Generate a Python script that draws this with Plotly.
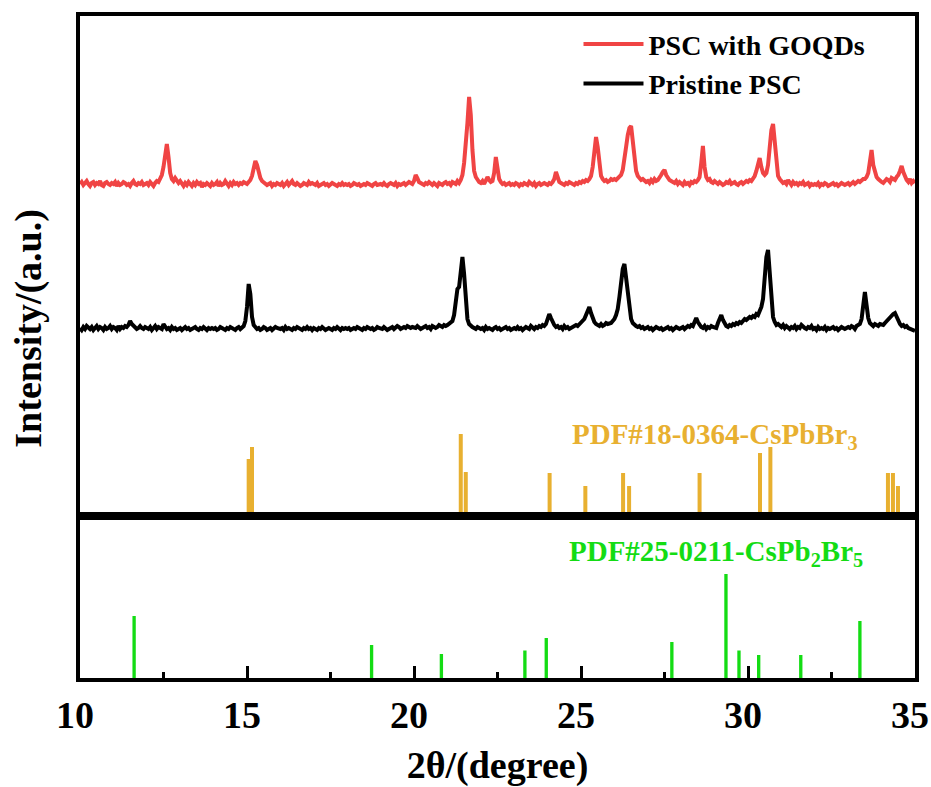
import plotly.graph_objects as go
from plotly.subplots import make_subplots

# ---------------- data ----------------
two_theta_start = 10.0
two_theta_step = 0.05

# PSC with GOQDs (intensity above its own baseline, a.u.), 10.00 .. 35.00 step 0.05
red_int = [
    1,3,0,2,4,1,-1,2,3,0,2,1,4,0,-1,2,3,1,0,2,           # 10
    1,3,-1,2,0,1,3,2,0,1,-1,2,4,1,0,2,1,3,0,1,           # 11
    2,0,3,1,-1,2,4,3,6,10,18,30,41,28,12,6,4,7,5,2,      # 12
    4,1,-1,2,0,3,1,-1,2,0,3,1,2,-2,1,0,2,1,-1,2,         # 13
    0,1,3,-1,2,0,1,4,1,-1,2,0,3,1,2,0,2,1,3,2,           # 14
    1,3,5,9,17,24,20,12,7,4,3,2,0,1,2,-1,1,0,2,1,        # 15
    0,2,-1,1,3,0,2,4,1,0,2,1,-1,0,2,1,0,3,1,2,           # 16
    1,0,2,-1,0,1,2,0,1,-1,0,2,1,0,-1,1,0,2,0,1,          # 17
    0,1,-1,0,2,1,0,1,-1,0,1,0,2,1,0,-1,1,2,0,1,          # 18
    1,0,2,0,-1,1,2,1,0,2,-1,1,0,1,2,0,1,3,2,1,           # 19
    4,10,7,3,2,1,0,2,1,3,1,0,2,1,-1,2,1,0,2,3,           # 20
    1,2,0,3,2,1,4,2,5,10,22,40,62,88,70,35,14,8,5,3,     # 21
    2,4,1,6,8,5,3,4,12,28,14,6,3,1,2,0,1,2,0,1,          # 22
    0,2,1,-1,1,0,2,1,0,3,1,0,2,-1,1,2,0,1,2,1,           # 23
    0,2,1,3,6,13,7,3,2,1,0,2,1,3,2,1,0,2,1,3,            # 24
    2,4,3,5,4,6,9,18,32,48,38,18,9,6,4,5,3,4,6,5,        # 25
    6,5,7,8,10,15,24,38,50,57,59,42,25,14,9,7,5,6,4,3,   # 26
    4,2,5,3,6,4,5,7,10,13,15,10,7,5,4,3,2,4,1,3,         # 27
    2,0,3,1,2,0,3,2,4,3,5,8,22,39,18,8,5,6,3,2,          # 28
    4,2,1,3,2,0,1,3,2,4,1,2,3,1,0,2,3,1,2,4,             # 29
    3,5,4,6,9,14,22,27,18,12,10,12,20,38,55,61,40,18,9,6,# 30
    4,2,3,1,5,2,0,3,1,2,0,2,1,3,0,1,2,-1,1,0,            # 31
    1,0,2,-1,1,0,2,1,-1,0,1,2,0,1,-1,0,2,1,0,1,          # 32
    2,0,1,3,1,2,4,3,5,6,6,8,12,22,35,20,12,8,6,4,        # 33
    3,2,4,6,5,3,7,6,5,8,10,14,19,13,8,5,3,6,2,4,         # 34
    2,                                                   # 35
]

# Pristine PSC
black_int = [
    1,-1,2,0,3,1,0,2,-1,1,3,0,2,1,-1,2,0,1,3,0,          # 10
    2,1,-1,3,0,2,1,3,2,4,8,5,3,2,0,1,3,1,0,2,            # 11
    1,0,2,-1,1,3,0,2,1,0,5,2,0,1,-1,2,0,1,-1,0,          # 12
    1,-1,0,2,0,1,-1,0,1,2,0,-1,1,0,2,0,-1,1,0,1,         # 13
    0,1,-1,0,2,1,0,-1,1,0,2,1,0,-1,1,2,0,1,3,8,          # 14
    22,45,35,12,4,2,0,1,-1,0,2,1,-1,0,1,-1,0,2,1,0,      # 15
    0,1,-1,2,0,1,0,-1,1,0,2,1,0,-1,1,0,2,0,1,-1,         # 16
    1,0,-1,1,0,2,1,-1,0,1,0,-1,1,0,2,0,-1,1,0,1,         # 17
    0,1,-1,0,1,0,2,1,0,-1,1,0,2,1,0,1,-1,0,2,1,          # 18
    1,0,2,1,-1,0,1,2,0,1,3,2,0,1,2,1,3,2,1,2,            # 19
    2,1,3,2,0,1,2,3,1,2,0,3,2,1,2,4,3,2,4,3,             # 20
    4,5,6,8,14,28,40,42,58,72,55,25,10,5,3,2,1,0,2,1,    # 21
    0,1,-1,2,0,1,0,-1,1,2,0,1,-1,0,1,2,0,1,-1,0,         # 22
    1,0,2,0,1,-1,0,2,1,0,3,1,0,2,1,3,2,4,3,5,            # 23
    10,15,11,7,4,2,3,1,2,0,3,1,2,0,1,2,3,4,3,5,          # 24
    6,8,10,14,18,22,16,10,7,5,4,3,5,3,4,6,5,5,6,8,       # 25
    10,14,20,32,48,60,65,50,32,18,10,6,4,3,2,3,1,2,0,1,  # 26
    2,0,1,-1,0,2,1,0,1,-1,0,1,2,0,1,-1,0,2,1,0,          # 27
    1,2,0,1,3,2,4,3,6,11,7,4,2,1,3,0,2,1,3,2,            # 28
    2,1,6,10,14,9,5,3,2,4,3,5,4,6,5,7,6,8,10,9,          # 29
    10,12,11,13,12,15,14,18,22,30,50,72,79,55,25,12,7,4,5,3, # 30
    2,4,1,3,2,0,2,1,3,0,2,1,4,2,1,0,2,1,3,0,             # 31
    1,-1,2,0,1,0,2,-1,1,0,1,2,0,1,-1,0,2,1,0,1,          # 32
    2,1,3,2,0,3,4,5,10,22,37,24,11,6,4,3,5,4,3,5,        # 33
    5,4,6,8,9,11,13,15,16,12,8,5,3,4,2,3,1,0,-1,-2,      # 34
    -2,                                                  # 35
]

red_offset = 331
black_offset = 187

# PDF#18-0364 CsPbBr3 reference lines
gold_pos = [15.05, 15.15, 21.40, 21.55, 24.06, 25.13, 26.26, 26.44, 28.55,
            30.36, 30.67, 34.19, 34.34, 34.49]
gold_int = [57, 69, 82, 44, 43, 30, 43, 30, 43, 63, 69, 43, 43, 30]

# PDF#25-0211 CsPb2Br5 reference lines
green_pos = [11.62, 18.73, 20.82, 23.32, 23.96, 27.72, 29.34, 29.73, 30.32,
             31.58, 33.35]
green_int = [62, 33, 24, 27.5, 40, 36, 104, 27.5, 23, 23, 57]

x_ticks = [10, 15, 20, 25, 30, 35]
x_tick_labels = ["10", "15", "20", "25", "30", "35"]

# ---------------- figure ----------------
n = len(red_int)
two_theta = [round(two_theta_start + i * two_theta_step, 2) for i in range(n)]
red_y = [v + red_offset for v in red_int]
black_y = [v + black_offset for v in black_int]

FONT = "Liberation Serif"
RED = "#F04444"
GOLD = "#E8B030"
GREEN = "#14DC14"

fig = make_subplots(rows=2, cols=1, shared_xaxes=True, vertical_spacing=0,
                    row_heights=[0.7553, 0.2447])

fig.add_trace(go.Scatter(x=two_theta, y=red_y, mode="lines", name="PSC with GOQDs",
                         line=dict(color=RED, width=4)), row=1, col=1)
fig.add_trace(go.Scatter(x=two_theta, y=black_y, mode="lines", name="Pristine PSC",
                         line=dict(color="black", width=4)), row=1, col=1)
fig.add_trace(go.Bar(x=gold_pos, y=gold_int, width=0.12, marker=dict(color=GOLD, line_width=0),
                     showlegend=False, name="CsPbBr3"), row=1, col=1)
fig.add_trace(go.Bar(x=green_pos, y=green_int, width=0.1, marker=dict(color=GREEN, line_width=0),
                     showlegend=False, name="CsPb2Br5"), row=2, col=1)

axis_common = dict(showline=True, linecolor="black", linewidth=4, mirror=True,
                   showgrid=False, zeroline=False, automargin=False)

fig.update_xaxes(range=[10, 35], **axis_common)
fig.update_xaxes(row=1, col=1, ticks="", showticklabels=False)
fig.update_xaxes(row=2, col=1, ticks="inside", ticklen=12, tickwidth=3, tickcolor="black",
                 tickvals=x_ticks, ticktext=x_tick_labels,
                 ticklabeloverflow="allow", ticklabelshift=-5,
                 minor=dict(ticks="inside", ticklen=6, tickwidth=3, tickcolor="black", dtick=2.5),
                 tickfont=dict(family=FONT, size=38, color="black", weight="bold"),
                 title=dict(text="2θ/(degree)", standoff=20,
                            font=dict(family=FONT, size=38, color="black", weight="bold")))
fig.update_yaxes(showticklabels=False, ticks="", **axis_common)
fig.update_yaxes(row=1, col=1, range=[0, 500])
fig.update_yaxes(row=2, col=1, range=[0, 162])

fig.add_annotation(text="Intensity/(a.u.)", xref="paper", yref="paper", x=-0.062, y=0.528,
                   textangle=-90, showarrow=False, xanchor="center", yanchor="middle",
                   font=dict(family=FONT, size=38, color="black", weight="bold"))
fig.add_annotation(text="PDF#18-0364-CsPbBr<sub>3</sub>", xref="x", yref="y", x=24.67, y=80,
                   xanchor="left", yanchor="middle", showarrow=False,
                   font=dict(family=FONT, size=29, color=GOLD, weight="bold"))
fig.add_annotation(text="PDF#25-0211-CsPb<sub>2</sub>Br<sub>5</sub>", xref="x2", yref="y2",
                   x=24.58, y=125, xanchor="left", yanchor="middle", showarrow=False,
                   font=dict(family=FONT, size=29, color=GREEN, weight="bold"))

fig.update_layout(
    width=931, height=787,
    margin=dict(l=80, r=16, t=16, b=109, autoexpand=False),
    plot_bgcolor="white", paper_bgcolor="white",
    barmode="overlay",
    showlegend=True,
    legend=dict(x=0.597, y=0.995, xanchor="left", yanchor="top", bgcolor="rgba(0,0,0,0)",
                font=dict(family=FONT, size=28, color="black", weight="bold"),
                tracegroupgap=0, itemwidth=60),
)

fig.write_html("out.html")
